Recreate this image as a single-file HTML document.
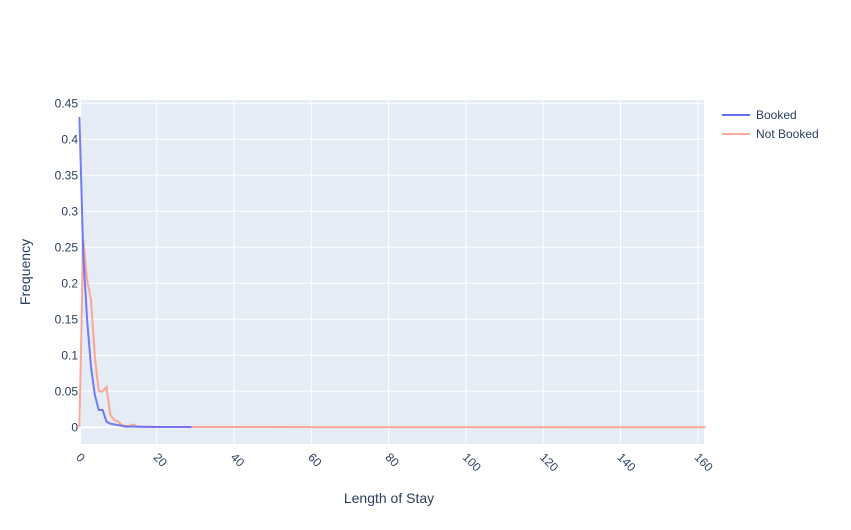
<!DOCTYPE html>
<html><head><meta charset="utf-8"><style>
body{margin:0;background:#fff;font-family:"Liberation Sans",sans-serif}
</style></head><body>
<svg id="c" width="851" height="525" xmlns="http://www.w3.org/2000/svg" font-family="Liberation Sans, sans-serif">
<rect x="81" y="100" width="623" height="344" fill="#e5ecf6"/>
<g id="grid"></g><g id="series"></g><g id="ticks"></g>
<text x="389" y="503" font-size="14" fill="#2a3f5f" text-anchor="middle">Length of Stay</text>
<text transform="translate(30,272) rotate(-90)" font-size="14" fill="#2a3f5f" text-anchor="middle">Frequency</text>
<g>
<g><line x1="722" y1="115" x2="750" y2="115" stroke="#636efa" stroke-width="2"/><text x="756" y="119" font-size="12" fill="#2a3f5f">Booked</text></g>
<g><line x1="722" y1="134" x2="750" y2="134" stroke="#fba08a" stroke-width="2" opacity="0.9"/><text x="756" y="138" font-size="12" fill="#2a3f5f">Not Booked</text></g>
</g>
</svg>
<script>
const bookedX=[0,1,2,3,4,5,6,7,8,9,10,11,12,13,14,15,16,18,20,22,24,26,28,29];
const bookedY=[0.431,0.24,0.149,0.084,0.045,0.024,0.024,0.008,0.005,0.004,0.003,0.002,0.001,0.001,0.001,0.0008,0.0007,0.0006,0.0005,0.0005,0.0004,0.0004,0.0004,0.0003];
const notX=[0,1,2,3,4,5,6,7,8,9,10,11,12,13,14,15,16,20,30,60,100,140,162];
const notY=[0,0.26,0.204,0.177,0.098,0.05,0.05,0.056,0.017,0.01,0.008,0.003,0.002,0.002,0.004,0.001,0.0007,0.0005,0.0004,0.0003,0.0002,0.0001,0.0001];
const xTicks=[0,20,40,60,80,100,120,140,160];
const yTicks=[0,0.05,0.1,0.15,0.2,0.25,0.3,0.35,0.4,0.45];
const yLabels=["0","0.05","0.1","0.15","0.2","0.25","0.3","0.35","0.4","0.45"];
const NS="http://www.w3.org/2000/svg";
const xs=v=>79.4+v*3.865, ys=v=>427.3-v*720;
const grid=document.getElementById('grid'),ticks=document.getElementById('ticks'),ser=document.getElementById('series');
function mk(t,a,p){const e=document.createElementNS(NS,t);for(const k in a)e.setAttribute(k,a[k]);p.appendChild(e);return e;}
xTicks.forEach(v=>{const x=xs(v);
 if(v>0){const g=mk('line',{x1:x,x2:x,y1:100,y2:444,stroke:'#fff','stroke-width':1},grid);
 
 }
 const t=mk('text',{transform:`translate(${x-4},${458}) rotate(45)`,'font-size':12,fill:'#2a3f5f'},ticks);t.textContent=v;
 
 });
yTicks.forEach((v,i)=>{const y=ys(v);
 const g=mk('line',{x1:81,x2:704,y1:y,y2:y,stroke:'#fff','stroke-width':v===0?2:1},grid);
 
 
 const t=mk('text',{x:78,y:y+4,'font-size':12,fill:'#2a3f5f','text-anchor':'end'},ticks);t.textContent=yLabels[i];
 
 });
function line(X,Y,c,n,op){const p=mk('polyline',{points:X.map((x,i)=>xs(x)+','+ys(Y[i])).join(' '),fill:'none',stroke:c,'stroke-width':2,opacity:op},ser);
 
 }
line(notX,notY,'#fba08a','line-not-booked',0.9);
line(bookedX,bookedY,'#636efa','line-booked',0.9);
</script>
</body></html>
